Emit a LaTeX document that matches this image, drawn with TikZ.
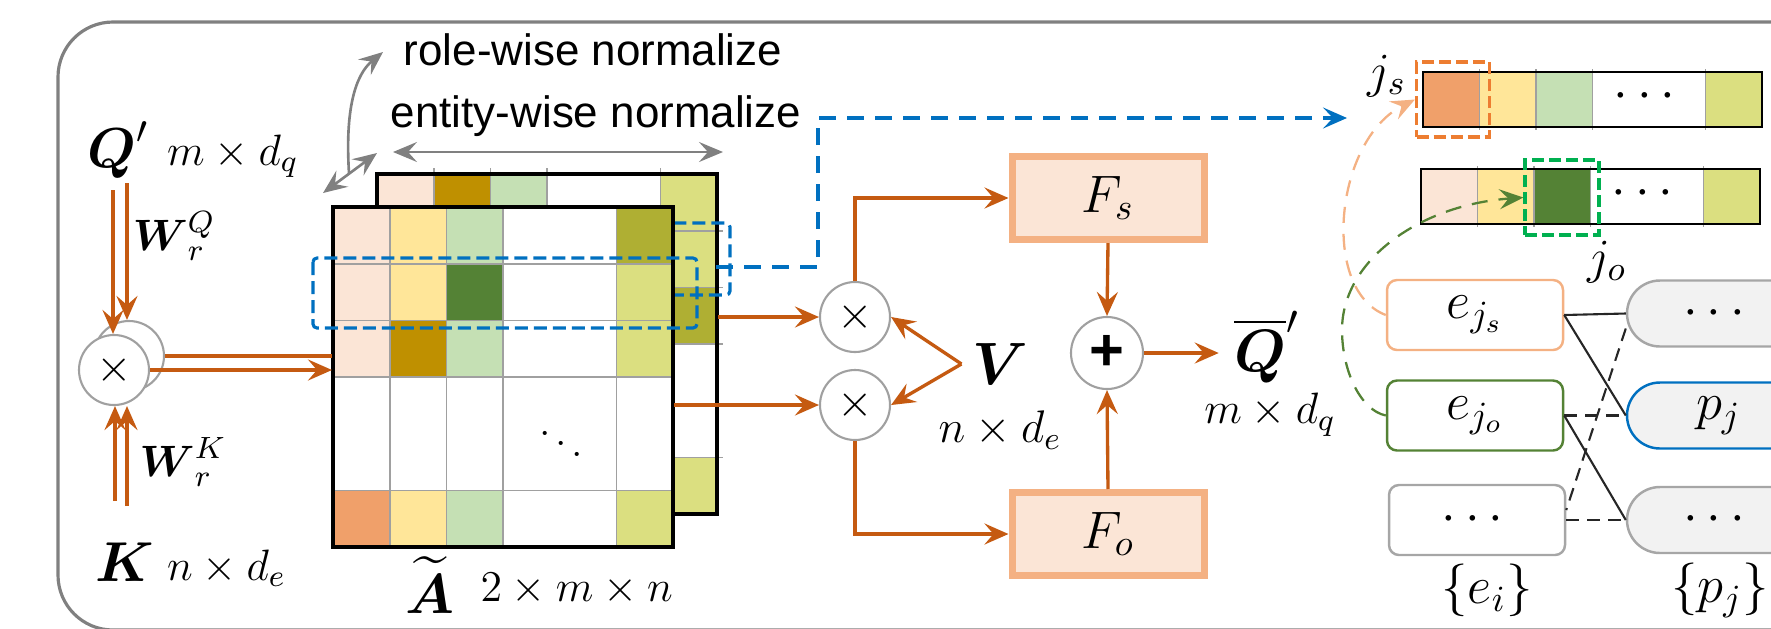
\RequirePackage{fix-cm}
\documentclass[tikz,border=0pt]{standalone}
\usepackage{amsmath}
\usepackage{fontspec}
\newfontfamily\arialfont{Liberation Sans}
\usetikzlibrary{arrows.meta, positioning}

\definecolor{accOrange}{HTML}{C55A11}
\definecolor{peach}{HTML}{FBE5D6}
\definecolor{lyellow}{HTML}{FFE699}
\definecolor{lgreen}{HTML}{C5E0B4}
\definecolor{gold}{HTML}{BF9000}
\definecolor{mOlive}{HTML}{AFAF33}
\definecolor{ygreen}{HTML}{DBDF80}
\definecolor{dgreen}{HTML}{548235}
\definecolor{mOrange}{HTML}{F0A06A}
\definecolor{lorange}{HTML}{F4B183}
\definecolor{selorange}{HTML}{ED7D31}
\definecolor{selgreen}{HTML}{00B050}
\definecolor{mblue}{HTML}{0070C0}
\definecolor{framegray}{HTML}{808080}
\definecolor{gridgray}{HTML}{A0A0A0}
\definecolor{pfill}{HTML}{F2F2F2}
\definecolor{pline}{HTML}{A6A6A6}

% one row of cells: x0, y0, cell width, row height, five colours
\newcommand{\cellrow}[5]{%
  \foreach \cc [count=\i from 0] in {#5} {
    \pgfmathsetmacro{\cx}{{0,1,2,3,5}[\i]}
    \pgfmathsetmacro{\cw}{{1,1,1,2,1}[\i]}
    \fill[\cc] ({#1+\cx*#3}, #2) rectangle ++({\cw*#3}, #4);
  }}
% inner grid of a 6x6 matrix: x0, y0, cell size
\newcommand{\gridlines}[3]{%
  \foreach \k in {1,2,3,5} {
    \draw[gridln] ({#1+\k*#3}, #2) -- ++(0, {6*#3});
    \draw[gridln] (#1, {#2+\k*#3}) -- ++({6*#3}, 0);
  }}

\begin{document}
\begin{tikzpicture}[x=0.1mm, y=-0.1mm,
    frame/.style={draw=framegray, line width=0.9pt, rounded corners=5.5mm},
    gridln/.style={draw=gridgray, line width=0.5pt},
    matedge/.style={draw=black, line width=1pt},
    bar/.style={draw=black, line width=0.6pt, minimum width=33.9mm, minimum height=5.5mm, inner sep=0pt},
    opnode/.style={circle, draw=gridgray, line width=0.6pt, fill=white, minimum size=7mm,
                   inner sep=0pt, font=\fontsize{13}{15}\selectfont},
    fbox/.style={rectangle, draw=lorange, line width=2pt, fill=peach,
                 minimum width=19.2mm, minimum height=8.3mm, font=\fontsize{15}{18}\selectfont},
    ebox/.style={rectangle, rounded corners=1mm, line width=0.7pt,
                 minimum width=17.6mm, minimum height=7mm, font=\fontsize{15}{18}\selectfont},
    pbox/.style={rectangle, rounded corners=3.3mm, draw=pline, fill=pfill, line width=0.7pt,
                 minimum width=18.3mm, minimum height=6.6mm, font=\fontsize{15}{18}\selectfont},
    selbox/.style={dash pattern=on 1.2mm off 0.5mm, line width=0.9pt,
                   minimum width=7.3mm, minimum height=7.5mm, inner sep=0pt},
    bluebox/.style={draw=mblue, line width=0.9pt, dash pattern=on 1.3mm off 0.6mm, rounded corners=0.4mm},
    blueroute/.style={draw=mblue, line width=0.9pt, dash pattern=on 1.7mm off 1.1mm,
                      -{Stealth[length=2.4mm, width=2.1mm, inset=1mm]}},
    arrow/.style={draw=accOrange, line width=0.95pt, -{Stealth[length=2.4mm, width=2.1mm, inset=0.9mm]}},
    garrow/.style={draw=framegray, line width=0.75pt,
                   {Stealth[length=2.4mm, width=2mm, inset=0.9mm]}-{Stealth[length=2.4mm, width=2mm, inset=0.9mm]}},
    gcurve/.style={draw=framegray, line width=0.75pt, -{Stealth[length=2.4mm, width=2mm, inset=0.9mm]}},
    hint/.style={line width=0.65pt, dash pattern=on 1.6mm off 1.1mm,
                 -{Stealth[length=2.4mm, width=2mm, inset=0.9mm]}},
    link/.style={draw=black!85, line width=0.6pt},
    bigmath/.style={font=\fontsize{16}{19}\selectfont, inner sep=0pt},
    dims/.style={font=\fontsize{12.5}{15}\selectfont, inner sep=1pt},
    words/.style={font=\arialfont\fontsize{12.5}{15}\selectfont, inner sep=1pt},
  ]
  \useasboundingbox (0,0) rectangle (1771,628);
  \clip (0,0) rectangle (1771,628);

  \draw[frame] (58,22) rectangle (1830,630);

  % back slice of the attention tensor
  \cellrow{377}{174}{56.7}{56.7}{peach,gold,lgreen,white,ygreen}
  \cellrow{377}{230.7}{56.7}{56.7}{white,white,white,white,ygreen}
  \cellrow{377}{287.4}{56.7}{56.7}{white,white,white,white,mOlive}
  \cellrow{377}{344.1}{56.7}{113.4}{white,white,white,white,white}
  \cellrow{377}{457.5}{56.7}{56.7}{white,white,white,white,ygreen}
  \gridlines{377}{174}{56.7}
  \foreach \k in {1,2,3,5} {
    \draw[gridln] ({377+\k*56.7},168) -- ++(0,6);
    \draw[gridln] (717,{174+\k*56.7}) -- ++(6,0);
  }
  \draw[matedge] (377,174) rectangle (717.2,514.2);
  \coordinate (AbE) at (718,344);
  \draw[bluebox] (357,223) rectangle (730,295);

  % front slice
  \cellrow{333}{207}{56.7}{56.7}{peach,lyellow,lgreen,white,mOlive}
  \cellrow{333}{263.7}{56.7}{56.7}{peach,lyellow,dgreen,white,ygreen}
  \cellrow{333}{320.4}{56.7}{56.7}{peach,gold,lgreen,white,ygreen}
  \cellrow{333}{377.1}{56.7}{113.4}{white,white,white,white,white}
  \cellrow{333}{490.5}{56.7}{56.7}{mOrange,lyellow,lgreen,white,ygreen}
  \gridlines{333}{207}{56.7}
  \draw[matedge] (333,207) rectangle (673.2,547.2);
  \coordinate (AfW) at (332,377);
  \coordinate (AfE) at (674,377);
  \node[font=\fontsize{12}{14}\selectfont] (dd) at (561,433) {$\ddots$};
  \draw[bluebox] (313,258) rectangle (697,328);

  \node[bigmath, anchor=base] (At) at (430,613) {$\widetilde{\boldsymbol{A}}$};
  \node[dims, anchor=base west, inner sep=0pt] (Adim) at (480,601) {$2\times m\times n$};

  % normalisation hints
  \node[words, anchor=base] (rolelbl) at (593,65) {role-wise normalize};
  \node[words, anchor=base] (entlbl) at (596,127) {entity-wise normalize};
  \coordinate (rwA) at (323,193);
  \coordinate (rwB) at (377,153);
  \coordinate (rwC) at (349,173);
  \coordinate (rwD) at (383,52);
  \coordinate (ewA) at (393,152);
  \coordinate (ewB) at (723,152);
  \draw[garrow] (rwA) -- (rwB);
  \draw[gcurve] (rwC) .. controls (345,110) and (355,75) .. (rwD);
  \draw[garrow] (ewA) -- (ewB);

  % query / key projection
  \node[bigmath, anchor=base] (Qp) at (118,167) {$\boldsymbol{Q}'$};
  \node[dims, anchor=base west] (Qdim) at (163,165) {$m\times d_q$};
  \node[bigmath, anchor=base] (Kl) at (125,581) {$\boldsymbol{K}$};
  \node[dims, anchor=base west] (Kdim) at (163,580) {$n\times d_e$};
  \node[dims] (WQ) at (174,236) {$\boldsymbol{W}_{r}^{Q}$};
  \node[dims] (WK) at (183,462) {$\boldsymbol{W}_{r}^{K}$};

  \node[opnode] (mulB) at (129,356) {};
  \node[opnode] (mulF) at (114,370) {$\times$};

  \coordinate (qa) at (113,190);
  \coordinate (qb) at (127,183);
  \coordinate (ka) at (115,501);
  \coordinate (kb) at (127,506);
  \draw[arrow] (qa) -- (qa |- mulF.north);
  \draw[arrow] (qb) -- (qb |- mulB.north);
  \draw[arrow] (ka) -- (ka |- mulF.south);
  \draw[arrow] (kb) -- (kb |- mulF.south);
  \draw[accOrange, line width=0.95pt] (mulB.east) -- (mulB.east -| AfW);
  \draw[arrow] (mulF.east) -- (mulF.east -| AfW);

  % value aggregation
  \node[opnode] (mulU) at (855,317) {$\times$};
  \node[opnode] (mulL) at (855,405) {$\times$};
  \node[font=\fontsize{17}{20}\selectfont, inner sep=1mm] (V) at (1000,364) {$\boldsymbol{V}$};
  \node[font=\fontsize{13}{15}\selectfont] (Vdim) at (1000,430) {$n\times d_e$};
  \node[fbox] (Fs) at (1108,198) {$F_s$};
  \node[fbox] (Fo) at (1108,534) {$F_o$};
  \node[opnode, minimum size=7.2mm, font=\arialfont\bfseries\fontsize{17}{19}\selectfont] (plus) at (1107,353) {+};
  \node[font=\fontsize{17}{20}\selectfont, inner sep=1.5mm] (Qbar) at (1267,347) {$\overline{\boldsymbol{Q}}'$};
  \node[dims] (Qbardim) at (1270,415) {$m\times d_q$};

  \draw[arrow] (AbE |- mulU.west) -- (mulU.west);
  \draw[arrow] (AfE |- mulL.west) -- (mulL.west);
  \draw[arrow] (V.west) -- (mulU.east);
  \draw[arrow] (V.west) -- (mulL.east);
  \draw[arrow] (mulU.north) |- (Fs.west);
  \draw[arrow] (mulL.south) |- (Fo.west);
  \draw[arrow] (Fs.south) -- (plus.north);
  \draw[arrow] (Fo.north) -- (plus.south);
  \draw[arrow] (plus.east) -- (plus.east -| Qbar.west);

  % selected row and its argmax
  \coordinate (rowout) at (716,267);
  \coordinate (bluebend) at (818,118);
  \coordinate (bluetip) at (1347,118);
  \draw[blueroute] (rowout) -| (bluebend) -- (bluetip);

  \cellrow{1423}{72}{56.5}{55}{mOrange,lyellow,lgreen,white,ygreen}
  \foreach \k in {1,2,3,5} \draw[gridln] ({1423+\k*56.5},69) -- ++(0,61);
  \node[bar] (barS) at (1592.5,99.5) {};
  \node[font=\fontsize{15}{18}\selectfont] (dotsS) at (1649,97) {$\cdots$};

  \cellrow{1421}{169}{56.5}{55}{peach,lyellow,dgreen,white,ygreen}
  \foreach \k in {1,2,3,5} \draw[gridln] ({1421+\k*56.5},166) -- ++(0,61);
  \node[bar] (barO) at (1590.5,196.5) {};
  \node[font=\fontsize{15}{18}\selectfont] (dotsO) at (1647,194) {$\cdots$};

  \node[selbox, draw=selorange] (jsbox) at (1453,99.5) {};
  \node[selbox, draw=selgreen, minimum width=7.4mm] (jobox) at (1562,197.5) {};
  \node[font=\fontsize{14}{17}\selectfont] (js) at (1387,76) {$j_s$};
  \node[font=\fontsize{14}{17}\selectfont] (jo) at (1607,262) {$j_o$};

  % entity / predicate matching
  \node[ebox, draw=lorange] (es) at (1475,315) {$e_{j_s}$};
  \node[ebox, draw=dgreen] (eo) at (1475,415.5) {$e_{j_o}$};
  \node[ebox, draw=pline] (ed) at (1477,520) {$\cdots$};
  \node[pbox] (p1) at (1718.5,313.5) {$\cdots$};
  \node[pbox, draw=mblue] (pj) at (1718.5,415.5) {$p_j$};
  \node[pbox] (p3) at (1718.5,520) {$\cdots$};
  \node[font=\fontsize{15}{18}\selectfont] (eset) at (1487,590) {$\{e_i\}$};
  \node[font=\fontsize{15}{18}\selectfont] (pset) at (1720,590) {$\{p_j\}$};

  \draw[link] (es.east) -- (p1.west);
  \draw[link] (es.east) -- (pj.west);
  \draw[link] (eo.east) -- (p3.west);
  \draw[link, dash pattern=on 1.3mm off 0.8mm] (eo.east) -- (pj.west);
  \draw[link, dash pattern=on 1.3mm off 0.8mm] ([yshift=-1.5mm]p1.west) -- ([yshift=1mm]ed.east);
  \draw[link, dash pattern=on 1.3mm off 0.8mm] (ed.east) -- (p3.west);

  \draw[hint, draw=lorange] (es.west) .. controls (1320,290) and (1335,140) .. (jsbox.west);
  \draw[hint, draw=dgreen] (eo.west) .. controls (1360,410) and (1342,370) .. (1342,330)
    .. controls (1342,260) and (1420,205) .. (jobox.west);
\end{tikzpicture}
\end{document}
